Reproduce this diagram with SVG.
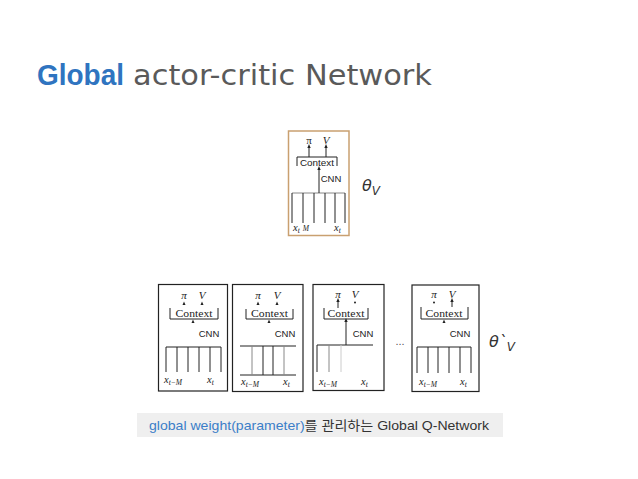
<svg xmlns="http://www.w3.org/2000/svg" width="638" height="479" viewBox="0 0 638 479">
<defs>
<marker id="ah" viewBox="0 0 6 6" refX="3" refY="3" markerWidth="4" markerHeight="4" orient="auto"><path d="M0,0.5 L6,3 L0,5.5 Z" fill="#222"/></marker>
<style>
.sym{font-family:"Liberation Serif",serif;font-size:11px;fill:#222}
.ctx{font-family:"Liberation Serif",serif;font-size:10.5px;fill:#222;text-anchor:middle}
.cnn{font-family:"Liberation Sans",sans-serif;font-size:9.5px;fill:#222;text-anchor:middle}
.lbl{font-family:"Liberation Serif",serif;font-size:10.5px;font-style:italic;fill:#222}
.sub{font-size:7.5px}
.box{fill:#fff;stroke:#222;stroke-width:1.2}
.ln{stroke:#222;stroke-width:1;fill:none}
.gl{stroke:#888;stroke-width:1}
.ll{stroke:#ccc;stroke-width:1}
.tri{fill:#222}
.theta{font-family:"DejaVu Sans",sans-serif;font-style:italic;font-size:16px;fill:#333}
</style>
</defs>
<rect width="638" height="479" fill="#fff"/>

<g id="title">
<text x="37" y="85" font-family="Liberation Sans, sans-serif" font-weight="bold" font-size="29" fill="#2f74c0" textLength="87" lengthAdjust="spacingAndGlyphs">Global</text>
<text x="133" y="85" font-family="DejaVu Sans, sans-serif" font-size="29" fill="#5a5a5a" textLength="299" lengthAdjust="spacingAndGlyphs">actor-critic Network</text>
</g>

<g id="global-net">
<rect x="288.5" y="131" width="60.5" height="104.5" fill="#fff" stroke="#c9a070" stroke-width="1.5"/>
<text class="sym" x="309" y="144" text-anchor="middle">π</text>
<text class="sym" x="326" y="144" text-anchor="middle" font-style="italic">V</text>
<path class="ln" d="M297,166 V157 H337 V166"/>
<text class="cnn" x="317" y="166" font-size="9.5" textLength="34" lengthAdjust="spacingAndGlyphs">Context</text>
<text class="cnn" x="331" y="182" font-size="9.5">CNN</text>
<line class="gl" x1="292" y1="193" x2="345" y2="193"/>
<path class="ln" d="M292,193 V223 M303,193 V223 M314,193 V223 M325,193 V223 M335,193 V223 M345,193 V223"/>
<text class="lbl" x="293" y="231">x<tspan class="sub" dy="2">t</tspan><tspan dx="3" dy="-2" font-size="7.5">M</tspan></text>
<text class="lbl" x="334" y="231">x<tspan class="sub" dy="2">t</tspan></text>
<text class="theta" x="362" y="191">θ<tspan font-size="12" dy="4">V</tspan></text>
</g>

<g id="worker-1">
<rect class="box" x="158.5" y="284.5" width="69" height="106.5"/>
<text class="sym" x="184" y="299" text-anchor="middle" font-style="italic">π</text>
<text class="sym" x="202" y="299" text-anchor="middle" font-style="italic">V</text>
<path class="tri" d="M182.5,305 L184,301.5 L185.5,305 Z M200.5,305 L202,301.5 L203.5,305 Z"/>
<path class="ln" d="M170,308 V319 H218 V308"/>
<text class="ctx" x="194" y="316.5" textLength="37" lengthAdjust="spacingAndGlyphs">Context</text>
<path class="tri" d="M191.5,323 L193,319.5 L194.5,323 Z"/>
<text class="cnn" x="209" y="337">CNN</text>
<path class="ln" d="M166,347 H221 M166,347 V372 M177,347 V372 M188,347 V372 M199,347 V372 M210,347 V372 M221,347 V372"/>
<text class="lbl" x="164" y="383">x<tspan class="sub" dy="2">t−M</tspan></text>
<text class="lbl" x="207" y="383">x<tspan class="sub" dy="2">t</tspan></text>
</g>

<g id="worker-2">
<rect class="box" x="232.5" y="284.5" width="70.5" height="107"/>
<text class="sym" x="258" y="299" text-anchor="middle" font-style="italic">π</text>
<text class="sym" x="277" y="299" text-anchor="middle" font-style="italic">V</text>
<path class="tri" d="M256.5,305 L258,301.5 L259.5,305 Z M275.5,305 L277,301.5 L278.5,305 Z"/>
<path class="ln" d="M246,309 V319 H293 V309"/>
<text class="ctx" x="269.5" y="316.5" textLength="37" lengthAdjust="spacingAndGlyphs">Context</text>
<path class="tri" d="M267.5,323 L269,319.5 L270.5,323 Z"/>
<text class="cnn" x="285" y="337">CNN</text>
<path class="ln" d="M240,346 H296 M240,375 H296 M263,346 V375 M273,346 V375"/>
<path class="gl" d="M252,346 V375 M284,346 V375"/>
<text class="lbl" x="241" y="385">x<tspan class="sub" dy="2">t−M</tspan></text>
<text class="lbl" x="283" y="385">x<tspan class="sub" dy="2">t</tspan></text>
</g>

<g id="worker-3">
<rect class="box" x="313" y="284.5" width="71" height="106"/>
<text class="sym" x="338" y="298" text-anchor="middle" font-style="italic">π</text>
<text class="sym" x="355" y="298" text-anchor="middle" font-style="italic">V</text>
<circle class="tri" cx="355" cy="302.5" r="1"/>
<path class="ln" d="M324,308 V319 H368 V308"/>
<text class="ctx" x="346" y="316.5" textLength="37" lengthAdjust="spacingAndGlyphs">Context</text>
<text class="cnn" x="363" y="337">CNN</text>
<path class="ln" d="M317,345 H373 M317,345 V372"/>
<path class="gl" d="M329,345 V372"/>
<path class="ll" d="M341,345 V372"/>
<text class="lbl" x="319" y="385">x<tspan class="sub" dy="2">t−M</tspan></text>
<text class="lbl" x="361" y="385">x<tspan class="sub" dy="2">t</tspan></text>
</g>

<g id="worker-4">
<rect class="box" x="412" y="285" width="67" height="106.5"/>
<text class="sym" x="434" y="298" text-anchor="middle" font-style="italic">π</text>
<text class="sym" x="452" y="298" text-anchor="middle" font-style="italic">V</text>
<circle class="tri" cx="434" cy="302.5" r="1"/>
<path class="ln" d="M421,307 V319 H468 V307"/>
<text class="ctx" x="444" y="316.5" textLength="37" lengthAdjust="spacingAndGlyphs">Context</text>
<path class="tri" d="M442.5,323 L444,319.5 L445.5,323 Z"/>
<text class="cnn" x="460" y="337">CNN</text>
<path class="ln" d="M417,347 H471 M417,347 V373 M428,347 V373 M438,347 V373 M449,347 V373 M460,347 V373 M471,347 V373"/>
<text class="lbl" x="419" y="385">x<tspan class="sub" dy="2">t−M</tspan></text>
<text class="lbl" x="460" y="385">x<tspan class="sub" dy="2">t</tspan></text>
</g>

<g id="connectors">
<line class="ln" x1="309" y1="157" x2="309" y2="146" marker-end="url(#ah)"/>
<line class="ln" x1="326" y1="157" x2="326" y2="146" marker-end="url(#ah)"/>
<line class="ln" x1="319" y1="193" x2="319" y2="168" marker-end="url(#ah)"/>
<line class="ln" x1="338" y1="308" x2="338" y2="300" marker-end="url(#ah)"/>
<line class="ln" x1="346" y1="345" x2="346" y2="320" marker-end="url(#ah)"/>
<line class="ln" x1="452" y1="307" x2="452" y2="300" marker-end="url(#ah)"/>
</g>

<g id="labels">
<text x="400" y="345" font-family="Liberation Sans, sans-serif" font-size="11" fill="#555" text-anchor="middle">...</text>
<text class="theta" x="489" y="347">θ`<tspan font-size="12" dy="4">V</tspan></text>
</g>

<g id="caption">
<rect x="137" y="413" width="366" height="24" fill="#efefef"/>
<text x="149" y="430" font-family="Liberation Sans, Noto Sans CJK KR, sans-serif" font-size="13" fill="#333" textLength="340" lengthAdjust="spacingAndGlyphs"><tspan fill="#3b7ec8">global weight(parameter)</tspan>를 관리하는 Global Q-Network</text>
</g>
</svg>
